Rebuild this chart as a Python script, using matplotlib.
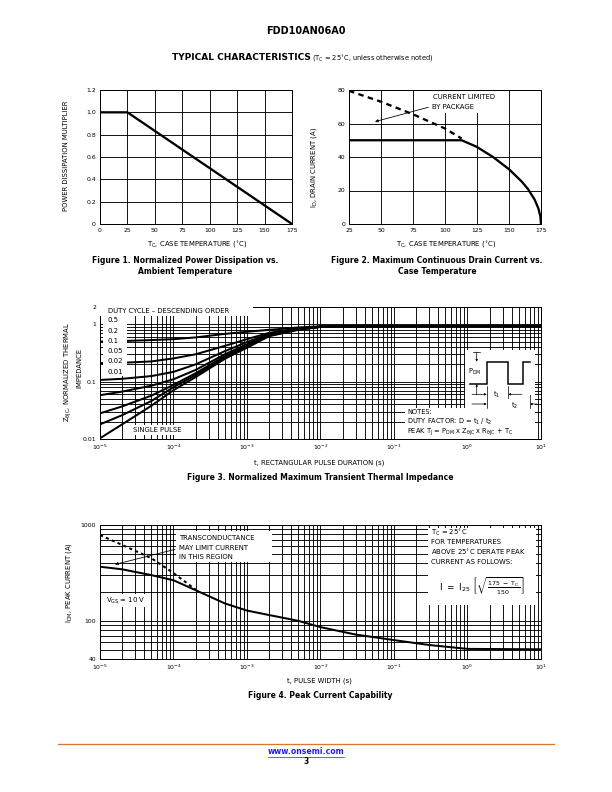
import matplotlib
matplotlib.use('Agg')
import matplotlib.pyplot as plt
from matplotlib.patches import Rectangle, Polygon
from matplotlib.ticker import LogLocator, NullFormatter, FixedLocator
import numpy as np

plt.rcParams['font.family'] = ['DejaVu Sans']
plt.rcParams['mathtext.fontset'] = 'dejavusans'
plt.rcParams['mathtext.default'] = 'regular'

# ---------------- data ----------------
# Figure 1
temp1 = [0, 25, 175]
mult1 = [1.0, 1.0, 0.0]
xt1 = [0, 25, 50, 75, 100, 125, 150, 175]
yt1 = [0, 0.2, 0.4, 0.6, 0.8, 1.0, 1.2]
ytl1 = ['0', '0.2', '0.4', '0.6', '0.8', '1.0', '1.2']

# Figure 2
temp2_pkg = [25, 50, 75, 100, 113]
id2_pkg = [79.5, 73.0, 65.5, 57.0, 51.0]
temp2 = [25, 113, 125, 137.5, 150, 160, 165, 170, 173, 174.5, 175]
id2 = [50, 50, 46.0, 40.0, 32.7, 25.3, 20.7, 14.6, 9.2, 4.6, 0]
xt2 = [25, 50, 75, 100, 125, 150, 175]
yt2 = [0, 20, 40, 60, 80]

# Figure 3
t3 = [1e-5, 2e-5, 5e-5, 1e-4, 2e-4, 5e-4, 1e-3, 2e-3, 5e-3, 1e-2, 1e-1, 1, 10]
z_d05 = [0.50, 0.51, 0.53, 0.55, 0.59, 0.68, 0.74, 0.80, 0.88, 0.92, 0.93, 0.93, 0.93]
z_d02 = [0.21, 0.213, 0.225, 0.254, 0.30, 0.42, 0.55, 0.71, 0.85, 0.91, 0.93, 0.93, 0.93]
z_d01 = [0.107, 0.112, 0.125, 0.148, 0.20, 0.34, 0.49, 0.68, 0.84, 0.91, 0.93, 0.93, 0.93]
z_d005 = [0.058, 0.067, 0.085, 0.11, 0.16, 0.30, 0.45, 0.66, 0.83, 0.91, 0.93, 0.93, 0.93]
z_d002 = [0.028, 0.037, 0.057, 0.088, 0.14, 0.28, 0.42, 0.64, 0.82, 0.90, 0.93, 0.93, 0.93]
z_d001 = [0.018, 0.026, 0.046, 0.080, 0.13, 0.26, 0.40, 0.63, 0.81, 0.90, 0.93, 0.93, 0.93]
z_single = [0.0103, 0.018, 0.038, 0.071, 0.12, 0.25, 0.39, 0.62, 0.80, 0.90, 0.93, 0.93, 0.93]
duty_labels = ['0.5', '0.2', '0.1', '0.05', '0.02', '0.01']
yt3 = [0.01, 0.1, 1, 2]
ytl3 = ['0.01', '0.1', '1', '2']

# Figure 4
t4 = [1e-5, 2e-5, 5e-5, 1e-4, 2e-4, 5e-4, 1e-3, 2e-3, 5e-3, 1e-2, 3e-2, 1e-1, 3e-1, 1, 10]
idm4 = [367, 345, 300, 265, 209, 152, 128, 115, 100, 86, 72, 63, 56, 51, 50.5]
t4_gm = [1e-5, 2e-5, 5e-5, 1e-4, 2e-4]
idm4_gm = [785, 620, 450, 315, 212]
yt4 = [40, 100, 1000]
ytl4 = ['40', '100', '1000']

W, H = 612, 792
fig = plt.figure(figsize=(W / 72, H / 72), dpi=72)

TICK_FS = 6.1
LAB_FS = 6.9
NOTE_FS = 6.6
CAP_FS = 7.6


def axrect(l, t, r, b):
    return [l / W, 1 - b / H, (r - l) / W, (b - t) / H]


def ftext(x, y, s, **kw):
    kw.setdefault('fontsize', LAB_FS)
    kw.setdefault('ha', 'center')
    kw.setdefault('va', 'center')
    return fig.text(x / W, 1 - y / H, s, **kw)


def style_ax(ax):
    for sp in ax.spines.values():
        sp.set_linewidth(1.0)
        sp.set_color('black')
    ax.tick_params(which='both', length=0, labelsize=TICK_FS, pad=4)
    ax.set_axisbelow(True)


# ---------------- header ----------------
ftext(306, 31, 'FDD10AN06A0', fontsize=9.8, fontweight='bold')
ftext(172, 58, 'TYPICAL CHARACTERISTICS', fontsize=9.0, fontweight='bold', ha='left')
ftext(312, 59, r'(T$_{\rm C}$ = 25$^{\circ}$C, unless otherwise noted)', fontsize=6.6, ha='left')

# ---------------- Figure 1 ----------------
ax1 = fig.add_axes(axrect(100, 90, 292, 224))
style_ax(ax1)
ax1.plot(temp1, mult1, color='black', lw=2.3, solid_capstyle='butt', zorder=3)
ax1.set_xlim(0, 175)
ax1.set_ylim(0, 1.2)
ax1.set_xticks(xt1)
ax1.set_yticks(yt1)
ax1.set_yticklabels(ytl1)
ax1.grid(True, color='black', lw=0.9)
ftext(66, 156, 'POWER DISSIPATION MULTIPLIER', rotation=90)
ftext(197, 245, r'T$_{\rm C}$, CASE TEMPERATURE ($^{\circ}$C)')
ftext(185, 266, 'Figure 1. Normalized Power Dissipation vs.\nAmbient Temperature',
      fontsize=CAP_FS, fontweight='bold', linespacing=1.15)

# ---------------- Figure 2 ----------------
ax2 = fig.add_axes(axrect(349, 90, 541, 224))
style_ax(ax2)
ax2.plot(temp2_pkg, id2_pkg, color='black', lw=2.3, ls=(0, (2.4, 1.9)), zorder=3)
ax2.plot(temp2, id2, color='black', lw=2.3, zorder=3)
ax2.set_xlim(25, 175)
ax2.set_ylim(0, 80)
ax2.set_xticks(xt2)
ax2.set_yticks(yt2)
ax2.grid(True, color='black', lw=0.9)
ax2.add_patch(Rectangle((0.42, 0.83), 0.41, 0.165, transform=ax2.transAxes,
                        facecolor='white', edgecolor='none', zorder=2))
ax2.text(0.44, 0.945, 'CURRENT LIMITED', transform=ax2.transAxes, fontsize=LAB_FS,
         ha='left', va='center', zorder=4)
ax2.text(0.43, 0.871, 'BY PACKAGE', transform=ax2.transAxes, fontsize=LAB_FS,
         ha='left', va='center', zorder=4)
ax2.annotate('', xy=(45.3, 61.1), xytext=(87, 69.7),
             arrowprops=dict(arrowstyle='-|>', color='black', lw=0.8,
                             mutation_scale=6, shrinkA=0, shrinkB=0), zorder=4)
ftext(314, 167, r'I$_{\rm D}$, DRAIN CURRENT (A)', rotation=90)
ftext(446, 245, r'T$_{\rm C}$, CASE TEMPERATURE ($^{\circ}$C)')
ftext(437, 266, 'Figure 2. Maximum Continuous Drain Current vs.\nCase Temperature',
      fontsize=CAP_FS, fontweight='bold', linespacing=1.15)


def log_grid(ax):
    ax.xaxis.set_major_locator(LogLocator(base=10, numticks=20))
    ax.xaxis.set_minor_locator(LogLocator(base=10, subs=np.arange(2, 10), numticks=100))
    ax.xaxis.set_minor_formatter(NullFormatter())
    ax.grid(True, which='both', color='black', lw=0.9)


# ---------------- Figure 3 ----------------
ax3 = fig.add_axes(axrect(100, 307, 541, 439))
style_ax(ax3)
ax3.set_xscale('log')
ax3.set_yscale('log')
ax3.set_xlim(1e-5, 10)
ax3.set_ylim(0.01, 2)
log_grid(ax3)
ax3.yaxis.set_major_locator(FixedLocator(yt3))
ax3.set_yticklabels(ytl3)
ax3.yaxis.set_minor_locator(LogLocator(base=10, subs=np.arange(2, 10), numticks=100))
ax3.yaxis.set_minor_formatter(NullFormatter())
for z in [z_d05, z_d02, z_d01, z_d005, z_d002, z_d001, z_single]:
    ax3.plot(t3, z, color='black', lw=2.0, zorder=3)

def fx3(x):
    return (x - 100) / 441.0

def fy3(y):
    return (439 - y) / 132.0

# top title box
ax3.add_patch(Rectangle((0.0, fy3(315.5)), fx3(253), 1 - fy3(315.5), transform=ax3.transAxes,
                        facecolor='white', edgecolor='none', zorder=4))
ax3.text(fx3(108), fy3(311), 'DUTY CYCLE \u2013 DESCENDING ORDER', transform=ax3.transAxes,
         fontsize=LAB_FS, ha='left', va='center', zorder=5)
# duty labels box
ax3.add_patch(Rectangle((fx3(103), fy3(376)), fx3(127) - fx3(103), fy3(315) - fy3(376),
                        transform=ax3.transAxes, facecolor='white', edgecolor='none', zorder=4))
for lab, yy in zip(duty_labels, [320, 330.7, 341.2, 351.2, 361.4, 371.6]):
    ax3.text(fx3(108), fy3(yy), lab, transform=ax3.transAxes, fontsize=LAB_FS,
             ha='left', va='center', zorder=5)
# single pulse
ax3.add_patch(Rectangle((fx3(131), fy3(434.5)), fx3(192) - fx3(131), fy3(425) - fy3(434.5),
                        transform=ax3.transAxes, facecolor='white', edgecolor='none', zorder=4))
ax3.text(fx3(133), fy3(430), 'SINGLE PULSE', transform=ax3.transAxes, fontsize=LAB_FS,
         ha='left', va='center', zorder=5)
# notes area
ax3.add_patch(Polygon([(fx3(405), 0.0), (fx3(405), fy3(407.5)), (fx3(465), fy3(407.5)),
                       (fx3(465), fy3(350)), (fx3(535), fy3(350)), (fx3(535), 0.0)],
                      closed=True, transform=ax3.transAxes, facecolor='white',
                      edgecolor='none', zorder=4))
ax3.text(fx3(407), fy3(411.5), 'NOTES:', transform=ax3.transAxes, fontsize=NOTE_FS,
         ha='left', va='center', zorder=5)
ax3.text(fx3(407), fy3(421.5), r'DUTY FACTOR: D = t$_1$ / t$_2$', transform=ax3.transAxes,
         fontsize=NOTE_FS, ha='left', va='center', zorder=5)
ax3.text(fx3(407), fy3(432),
         r'PEAK T$_{\rm J}$ = P$_{\rm DM}$ x Z$_{\theta\rm JC}$ x R$_{\theta\rm JC}$ + T$_{\rm C}$',
         transform=ax3.transAxes, fontsize=NOTE_FS, ha='left', va='center', zorder=5)
# pulse waveform
wx = [470, 486.7, 486.7, 508.3, 508.3, 522.7, 522.7, 530]
wy = [384, 384, 361.7, 361.7, 384, 384, 361.7, 361.7]
ax3.plot([fx3(v) for v in wx], [fy3(v) for v in wy], transform=ax3.transAxes,
         color='black', lw=1.5, zorder=5, solid_joinstyle='miter')
ax3.text(fx3(474.5), fy3(372), r'P$_{\rm DM}$', transform=ax3.transAxes, fontsize=NOTE_FS,
         ha='center', va='center', zorder=5)

def arrow3(x0, y0, x1, y1):
    ax3.annotate('', xy=(fx3(x1), fy3(y1)), xytext=(fx3(x0), fy3(y0)),
                 xycoords='axes fraction', textcoords='axes fraction',
                 arrowprops=dict(arrowstyle='-|>', color='black', lw=0.7,
                                 mutation_scale=4, shrinkA=0, shrinkB=0), zorder=6)

def seg3(x0, y0, x1, y1):
    ax3.plot([fx3(x0), fx3(x1)], [fy3(y0), fy3(y1)], transform=ax3.transAxes,
             color='black', lw=0.7, zorder=5)

arrow3(476.7, 352, 476.7, 361.7)
seg3(473, 352, 480, 352)
arrow3(476.7, 395, 476.7, 384)
# t1 dimension
seg3(486.7, 386, 486.7, 408)
seg3(508.3, 386, 508.3, 398)
arrow3(472, 394.3, 486.7, 394.3)
arrow3(522, 394.3, 508.3, 394.3)
ax3.text(fx3(497), fy3(395), r't$_1$', transform=ax3.transAxes, fontsize=NOTE_FS,
         ha='center', va='center', zorder=5)
# t2 dimension
seg3(530, 395, 530, 408)
arrow3(472, 404, 486.7, 404)
arrow3(537, 404, 530, 404)
ax3.text(fx3(515), fy3(406), r't$_2$', transform=ax3.transAxes, fontsize=NOTE_FS,
         ha='center', va='center', zorder=5)

ftext(68, 372, r'Z$_{\theta\rm JC}$, NORMALIZED THERMAL', rotation=90)
ftext(79, 368, 'IMPEDANCE', rotation=90)
ftext(319, 462.5, 't, RECTANGULAR PULSE DURATION (s)')
ftext(320, 478, 'Figure 3. Normalized Maximum Transient Thermal Impedance',
      fontsize=CAP_FS, fontweight='bold')

# ---------------- Figure 4 ----------------
ax4 = fig.add_axes(axrect(100, 525, 541, 659))
style_ax(ax4)
ax4.set_xscale('log')
ax4.set_yscale('log')
ax4.set_xlim(1e-5, 10)
ax4.set_ylim(40, 1000)
log_grid(ax4)
ax4.yaxis.set_major_locator(FixedLocator(yt4))
ax4.set_yticklabels(ytl4)
ax4.yaxis.set_minor_locator(LogLocator(base=10, subs=np.arange(2, 10), numticks=100))
ax4.yaxis.set_minor_formatter(NullFormatter())
ax4.plot(t4, idm4, color='black', lw=2.0, zorder=3)
ax4.plot(t4_gm, idm4_gm, color='black', lw=2.0, ls=(0, (1.6, 1.6)), zorder=3)

def fx4(x):
    return (x - 100) / 441.0

def fy4(y):
    return (659 - y) / 134.0

ax4.add_patch(Rectangle((fx4(176), fy4(562)), fx4(272) - fx4(176), fy4(531) - fy4(562),
                        transform=ax4.transAxes, facecolor='white', edgecolor='none', zorder=4))
for s, yy in zip(['TRANSCONDUCTANCE', 'MAY LIMIT CURRENT', 'IN THIS REGION'],
                 [537.5, 547.5, 557]):
    ax4.text(fx4(179), fy4(yy), s, transform=ax4.transAxes, fontsize=LAB_FS,
             ha='left', va='center', zorder=5)
ax4.annotate('', xy=(1.6e-5, 388), xytext=(1.05e-4, 557),
             arrowprops=dict(arrowstyle='-|>', color='black', lw=0.8,
                             mutation_scale=6, shrinkA=0, shrinkB=0), zorder=5)
ax4.add_patch(Rectangle((fx4(104), fy4(607)), fx4(149) - fx4(104), fy4(594) - fy4(607),
                        transform=ax4.transAxes, facecolor='white', edgecolor='none', zorder=4))
ax4.text(fx4(106), fy4(600.5), r'V$_{\rm GS}$ = 10 V', transform=ax4.transAxes,
         fontsize=LAB_FS, ha='left', va='center', zorder=5)
ax4.add_patch(Rectangle((fx4(428), fy4(605)), fx4(536) - fx4(428), fy4(528) - fy4(605),
                        transform=ax4.transAxes, facecolor='white', edgecolor='none', zorder=4))
for s, yy in zip([r'T$_{\rm C}$ = 25$^{\circ}$C', 'FOR TEMPERATURES',
                  r'ABOVE 25$^{\circ}$C DERATE PEAK', 'CURRENT AS FOLLOWS:'],
                 [532.7, 542.3, 552.3, 561.7]):
    ax4.text(fx4(431), fy4(yy), s, transform=ax4.transAxes, fontsize=LAB_FS,
             ha='left', va='center', zorder=5)
ax4.text(fx4(482), fy4(586),
         r'$\mathrm{I\ =\ I_{25}}\ \left[\sqrt{\frac{\mathrm{175\ -\ T_C}}{\mathrm{150}}}\right]$',
         transform=ax4.transAxes, fontsize=9.0, ha='center', va='center', zorder=5)

ftext(69, 583, r'I$_{\rm DM}$, PEAK CURRENT (A)', rotation=90)
ftext(319, 681, 't, PULSE WIDTH (s)')
ftext(320, 696, 'Figure 4. Peak Current Capability', fontsize=CAP_FS, fontweight='bold')

# ---------------- footer ----------------
fig.add_artist(plt.Line2D([58 / W, 554 / W], [1 - 744 / H, 1 - 744 / H],
                          color='#d9772f', lw=1.3))
ftext(306, 751, 'www.onsemi.com', fontsize=7.7, fontweight='bold', color='#2222ee')
fig.add_artist(plt.Line2D([268 / W, 344 / W], [1 - 756.5 / H, 1 - 756.5 / H],
                          color='#2222ee', lw=0.7))
ftext(306, 761.5, '3', fontsize=7.5, fontweight='bold')

fig.savefig('out.png', dpi=72, facecolor='white')
